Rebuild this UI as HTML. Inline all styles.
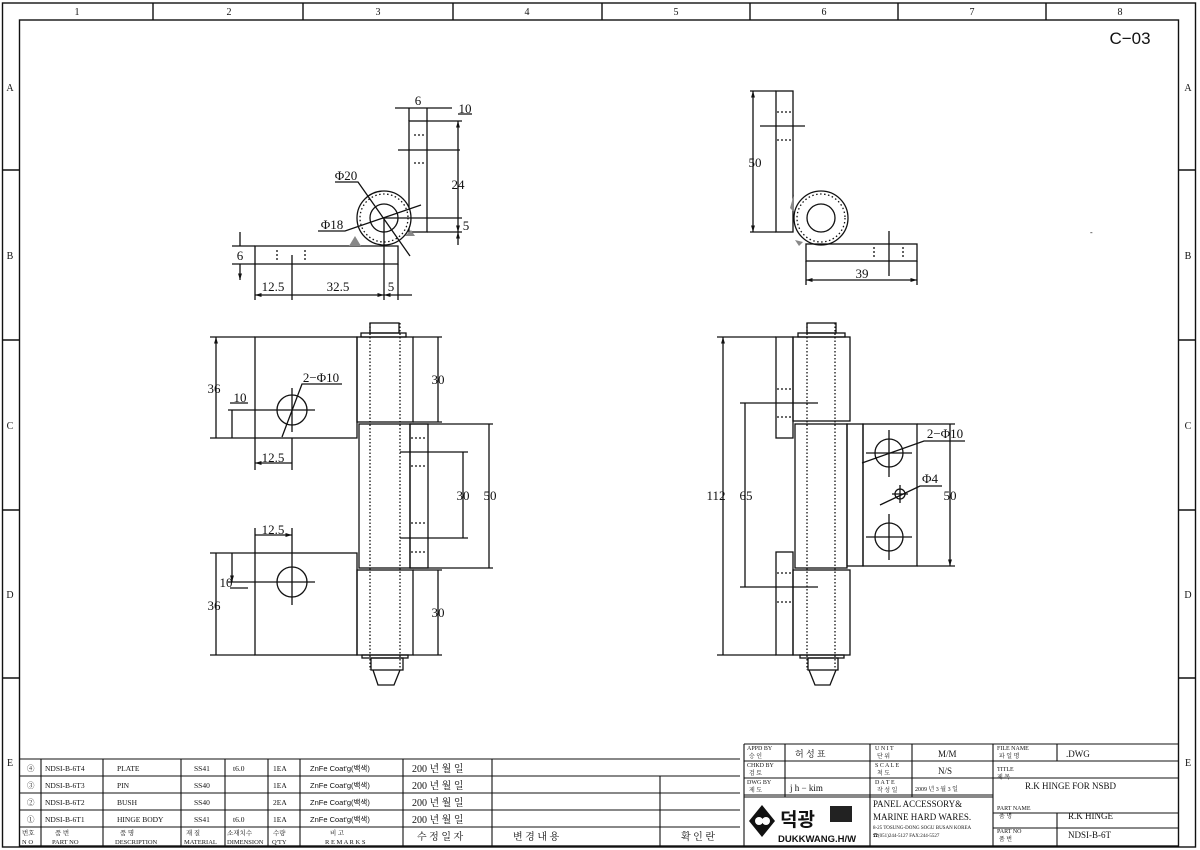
<!DOCTYPE html>
<html><head><meta charset="utf-8"><style>
html,body{margin:0;padding:0;background:#fff;}
svg{display:block;}
text{font-family:"Liberation Serif","Noto Serif CJK SC",serif;fill:#111;}
.s{font-family:"Liberation Sans","Noto Sans CJK KR",sans-serif;}
.k{font-family:"Liberation Sans","Noto Sans CJK KR",sans-serif;}
g.d{stroke-width:1.3;}
</style></head><body>
<svg width="1200" height="850" viewBox="0 0 1200 850" xmlns="http://www.w3.org/2000/svg">
<defs>
<marker id="a" viewBox="0 0 10 10" refX="10" refY="5" markerWidth="7" markerHeight="5" orient="auto-start-reverse"><path d="M0,2 L10,5 L0,8z" fill="#111"/></marker>
</defs>
<g fill="none" stroke="#111" stroke-width="1.4">
<rect x="2.5" y="3" width="1193" height="844"/>
<rect x="19.5" y="20" width="1159" height="826"/>
<path d="M153,3V20M303,3V20M453,3V20M602,3V20M750,3V20M898,3V20M1046,3V20"/>
<path d="M2,170H19M2,340H19M2,510H19M2,678H19M1179,170H1196M1179,340H1196M1179,510H1196M1179,678H1196"/>
</g>
<g font-size="10" text-anchor="middle">
<text x="77" y="15">1</text><text x="229" y="15">2</text><text x="378" y="15">3</text><text x="527" y="15">4</text><text x="676" y="15">5</text><text x="824" y="15">6</text><text x="972" y="15">7</text><text x="1120" y="15">8</text>
<text x="10" y="91">A</text><text x="10" y="259">B</text><text x="10" y="429">C</text><text x="10" y="598">D</text><text x="10" y="766">E</text>
<text x="1188" y="91">A</text><text x="1188" y="259">B</text><text x="1188" y="429">C</text><text x="1188" y="598">D</text><text x="1188" y="766">E</text>
</g>
<text x="1130" y="44" class="s" font-size="17" text-anchor="middle">C−03</text>

<!-- TOP LEFT VIEW -->
<g class="d" fill="none" stroke="#111" stroke-width="1.3">
<rect x="409" y="121" width="18" height="111"/>
<path d="M255,246H398V264H255Z"/>
<circle cx="384" cy="218" r="27" fill="#fff"/>
<circle cx="384" cy="218" r="24" stroke-dasharray="1.5 2.5"/>
<circle cx="384" cy="218" r="14"/>
<path d="M414,135h10M414,163h10M277,250v10M305,250v10" stroke-dasharray="2 2"/>
<path d="M409,108V121M427,108V121M395,108H452"/>
<path d="M398,150H460M427,121H462M384,218H462M427,232H462M398,264V300M255,264V300M292,255V300M384,218V300M232,246H255M232,264H255"/>
<path d="M458,121V232" marker-start="url(#a)" marker-end="url(#a)"/>
<path d="M458,232V245" marker-start="url(#a)"/>
<path d="M240,232V246M240,264V280" marker-end="url(#a)"/>
<path d="M255,295H384" marker-start="url(#a)" marker-end="url(#a)"/>
<path d="M384,295H412" marker-start="url(#a)"/>
<path d="M335,182H358L410,256M318,231H345L421,205M458,114H472"/>
<path d="M355,236l-6,10h12z M411,230l-6,6h10z" fill="#888" stroke="none"/>
</g>
<g font-size="13" class="s" text-anchor="middle">
<text x="418" y="105">6</text><text x="465" y="113">10</text><text x="458" y="189">24</text><text x="466" y="230">5</text>
<text x="346" y="180">Φ20</text><text x="332" y="229">Φ18</text>
<text x="240" y="260">6</text><text x="273" y="291">12.5</text><text x="338" y="291">32.5</text><text x="391" y="291">5</text>
</g>

<!-- TOP RIGHT VIEW -->
<g class="d" fill="none" stroke="#111" stroke-width="1.3">
<rect x="776" y="91" width="17" height="141"/>
<circle cx="821" cy="218" r="27" fill="#fff"/>
<circle cx="821" cy="218" r="24" stroke-dasharray="1.5 2.5"/>
<circle cx="821" cy="218" r="14"/>
<rect x="806" y="244" width="111" height="17"/>
<path d="M777,112h14M777,140h14M874,247v12M903,247v12" stroke-dasharray="2 2"/>
<path d="M760,126H805M889,231V276M750,91H776M750,232H776M806,261V285M917,261V285"/>
<path d="M753,91V232" marker-start="url(#a)" marker-end="url(#a)"/>
<path d="M806,280H917" marker-start="url(#a)" marker-end="url(#a)"/>
</g>
<path d="M794,194l-4,14 4,4z M795,240l4,6 4,-4z" fill="#888"/>
<g font-size="13" class="s" text-anchor="middle"><text x="755" y="167">50</text><text x="862" y="278">39</text></g>
<text x="1090" y="235" font-size="8">-</text>

<!-- BOTTOM LEFT VIEW -->
<g class="d" fill="none" stroke="#111" stroke-width="1.3">
<rect x="370" y="323" width="29" height="10"/><rect x="361" y="333" width="45" height="4"/>
<rect x="255" y="337" width="102" height="101"/>
<rect x="357" y="337" width="56" height="85"/>
<rect x="359" y="424" width="51" height="144"/>
<rect x="410" y="424" width="18" height="144"/>
<rect x="255" y="553" width="102" height="102"/>
<rect x="357" y="570" width="56" height="85"/>
<rect x="362" y="655" width="46" height="3"/><rect x="371" y="658" width="32" height="12"/>
<path d="M373,670L378,685H394L400,670"/>
<path d="M370,323V670M400,323V670" stroke-dasharray="1.5 2"/>
<path d="M411,438h16M411,466h16M411,523h16M411,552h16" stroke-dasharray="2 2"/>
<circle cx="292" cy="410" r="15"/><circle cx="292" cy="582" r="15"/>
<path d="M228,410H315M292,388V432M228,582H315M292,560V605"/>
<path d="M210,337H255M210,438H255M413,337H442M413,422H442M410,424H493M410,568H493M400,452H468M400,538H468M255,438V470M292,438V470M255,528V553M292,528V560M210,553H255M210,655H255M413,570H442M413,655H442"/>
<path d="M216,337V438M438,337V422M489,424V568M463,452V538M216,553V655M438,570V655M232,410V438M232,553V582" marker-start="url(#a)" marker-end="url(#a)"/>
<path d="M255,463H292M255,535H292" marker-start="url(#a)" marker-end="url(#a)"/>
<path d="M282,437L302,384H342M230,403H248M230,588H248"/>
</g>
<g font-size="13" class="s" text-anchor="middle">
<text x="214" y="393">36</text><text x="240" y="402">10</text><text x="273" y="462">12.5</text><text x="321" y="382">2−Φ10</text>
<text x="438" y="384">30</text><text x="463" y="500">30</text><text x="490" y="500">50</text>
<text x="273" y="534">12.5</text><text x="226" y="587">10</text><text x="214" y="610">36</text><text x="438" y="617">30</text>
</g>

<!-- BOTTOM RIGHT VIEW -->
<g class="d" fill="none" stroke="#111" stroke-width="1.3">
<rect x="807" y="323" width="29" height="10"/><rect x="798" y="333" width="47" height="4"/>
<rect x="776" y="337" width="17" height="101"/>
<rect x="793" y="337" width="57" height="84"/>
<rect x="795" y="424" width="52" height="144"/>
<rect x="847" y="424" width="16" height="142"/>
<rect x="863" y="424" width="54" height="142"/>
<rect x="776" y="552" width="17" height="103"/>
<rect x="793" y="570" width="57" height="85"/>
<rect x="800" y="655" width="44" height="3"/><rect x="808" y="658" width="30" height="12"/>
<path d="M809,670L815,685H830L836,670"/>
<path d="M807,323V670M835,323V670" stroke-dasharray="1.5 2"/>
<path d="M777,389h15M777,417h15M777,573h15M777,602h15" stroke-dasharray="2 2"/>
<circle cx="889" cy="453" r="14"/><circle cx="889" cy="537" r="14"/><circle cx="900" cy="494" r="5"/>
<path d="M866,453H912M889,430V477M866,537H912M889,514V560M892,494H908M900,485V503"/>
<path d="M740,403H818M740,587H818M717,337H776M717,655H776M917,424H955M917,566H955"/>
<path d="M723,337V655M745,403V587M950,424V566" marker-start="url(#a)" marker-end="url(#a)"/>
<path d="M862,463L924,441H965M880,505L920,486H942"/>
</g>
<g font-size="13" class="s" text-anchor="middle">
<text x="716" y="500">112</text><text x="746" y="500">65</text><text x="950" y="500">50</text>
<text x="945" y="438">2−Φ10</text><text x="930" y="483">Φ4</text>
</g>

<!-- PARTS LIST -->
<g fill="none" stroke="#111" stroke-width="1.1">
<path d="M19,759H740M19,776H740M19,793H740M19,810H740M19,827H740"/>
<path d="M41,759V846M103,759V846M181,759V846M225,759V846M268,759V846M300,759V846M403,759V846M492,759V846M660,776V846"/>
<path d="M744,744V846M744,744H1179M744,761H1179M744,778H993M744,795H993M993,813H1179M993,828H1179M785,744V797M870,744V846M912,744V797M993,744V846M1057,744V761M1057,813V846M993,778H1179"/>
<path d="M870,761H993M870,778H993M744,797H993"/>
</g>
<g font-size="7.5">
<text x="27" y="771">④</text><text x="27" y="788">③</text><text x="27" y="805">②</text><text x="27" y="822">①</text>
<text x="45" y="771">NDSI-B-6T4</text><text x="45" y="788">NDSI-B-6T3</text><text x="45" y="805">NDSI-B-6T2</text><text x="45" y="822">NDSI-B-6T1</text>
<text x="117" y="771">PLATE</text><text x="117" y="788">PIN</text><text x="117" y="805">BUSH</text><text x="117" y="822">HINGE BODY</text>
<text x="194" y="771">SS41</text><text x="194" y="788">SS40</text><text x="194" y="805">SS40</text><text x="194" y="822">SS41</text>
<text x="233" y="771">t6.0</text><text x="233" y="822">t6.0</text>
<text x="273" y="771">1EA</text><text x="273" y="788">1EA</text><text x="273" y="805">2EA</text><text x="273" y="822">1EA</text>
<text x="310" y="771" class="k">ZnFe Coat'g(백색)</text><text x="310" y="788" class="k">ZnFe Coat'g(백색)</text><text x="310" y="805" class="k">ZnFe Coat'g(백색)</text><text x="310" y="822" class="k">ZnFe Coat'g(백색)</text>
</g>
<g font-size="10" class="k">
<text x="412" y="772">200 년  월  일</text><text x="412" y="789">200 년  월  일</text><text x="412" y="806">200 년  월  일</text><text x="412" y="823">200 년  월  일</text>
<text x="417" y="840">수 정 일 자</text><text x="513" y="840">변    경    내    용</text><text x="681" y="840">확 인 란</text>
</g>
<g font-size="6.5" class="k">
<text x="22" y="835">번호</text><text x="22" y="844">N O</text>
<text x="55" y="835">품    번</text><text x="52" y="844">PART    NO</text>
<text x="120" y="835">품    명</text><text x="115" y="844">DESCRIPTION</text>
<text x="186" y="835">재  질</text><text x="184" y="844">MATERIAL</text>
<text x="227" y="835">소재치수</text><text x="227" y="844">DIMENSION</text>
<text x="273" y="835">수량</text><text x="272" y="844">Q'TY</text>
<text x="330" y="835">비        고</text><text x="325" y="844">R E M A R K S</text>
</g>
<g font-size="6" class="k">
<text x="747" y="750">APPD  BY</text><text x="749" y="758">승  인</text>
<text x="747" y="767">CHKD  BY</text><text x="749" y="775">검  토</text>
<text x="747" y="784">DWG   BY</text><text x="749" y="792">제  도</text>
<text x="875" y="750">U N I T</text><text x="877" y="758">단  위</text>
<text x="875" y="767">S C A L E</text><text x="877" y="775">척   도</text>
<text x="875" y="784">D A T E</text><text x="877" y="792">작 성 일</text>
<text x="997" y="750">FILE  NAME</text><text x="999" y="758">파 일 명</text>
<text x="997" y="771">TITLE</text><text x="997" y="779">제 목</text>
<text x="997" y="810">PART   NAME</text><text x="999" y="818">품    명</text>
<text x="997" y="833">PART    NO</text><text x="999" y="841">품    번</text>
</g>
<g font-size="9" class="k">
<text x="795" y="757">허  성  표</text><text x="938" y="757">M/M</text><text x="938" y="774">N/S</text>
<text x="790" y="791">j h − kim</text><text x="915" y="791" font-size="6">2009 년 3 월 3 일</text>
<text x="1066" y="757">.DWG</text><text x="1025" y="789">R.K HINGE FOR NSBD</text>
<text x="1068" y="819">R.K HINGE</text><text x="1068" y="838">NDSI-B-6T</text>
<text x="873" y="807">PANEL ACCESSORY&amp;</text><text x="873" y="820">MARINE HARD WARES.</text>
<text x="873" y="829" font-size="5">8-25 TOSUNG-DONG SOGU BUSAN KOREA</text><text x="873" y="837" font-size="5">☎(051)244-5127 FAX:244-5527</text>
</g>
<g>
<path d="M762,805 L775,821 L762,837 L749,821Z" fill="#111"/>
<circle cx="759" cy="821" r="4" fill="#fff"/><circle cx="766" cy="821" r="4" fill="#fff"/>
<text x="780" y="826" font-size="19" font-weight="bold" class="k">덕광</text>
<rect x="830" y="806" width="22" height="16" fill="#222"/>
<text x="778" y="842" font-size="9.5" font-weight="bold" class="s">DUKKWANG.H/W</text>
</g>
</svg>
</body></html>
